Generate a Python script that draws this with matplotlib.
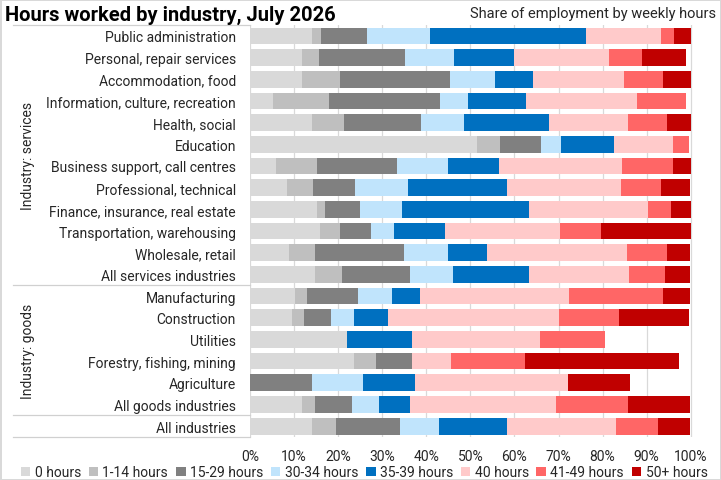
import numpy as np
import matplotlib
matplotlib.use('Agg')
import matplotlib.pyplot as plt
from matplotlib.patches import Patch

plt.rcParams['font.family'] = ['Roboto', 'DejaVu Sans']

industries = ['Public administration', 'Personal, repair services', 'Accommodation, food',
              'Information, culture, recreation', 'Health, social', 'Education',
              'Business support, call centres', 'Professional, technical',
              'Finance, insurance, real estate', 'Transportation, warehousing',
              'Wholesale, retail', 'All services industries',
              'Manufacturing', 'Construction', 'Utilities', 'Forestry, fishing, mining',
              'Agriculture', 'All goods industries', 'All industries']

hour_bands = ['0 hours', '1-14 hours', '15-29 hours', '30-34 hours',
              '35-39 hours', '40 hours', '41-49 hours', '50+ hours']

# share of employment (%) per band, one list per band, in industry order
h0     = [14.0, 11.7, 11.7,  5.2, 14.0, 51.4,  5.9,  8.3, 15.1, 15.8,  8.8, 14.7, 10.2,  9.5, 22.1, 23.5,  0.0, 11.7, 14.0]
h1_14  = [ 2.2,  3.9,  8.8, 12.8,  7.4,  5.4,  9.4,  6.1,  2.0,  4.7,  5.9,  6.1,  2.7,  2.7,  0.0,  5.1,  0.0,  3.0,  5.6]
h15_29 = [10.4, 19.6, 24.8, 25.1, 17.4,  9.3, 18.1,  9.5,  7.9,  7.0, 20.3, 15.5, 11.5,  6.1,  0.0,  8.2, 14.1,  8.5, 14.5]
h30_34 = [14.2, 11.0, 10.2,  6.3,  9.7,  4.5, 11.5, 12.0,  9.5,  5.2,  9.9,  9.7,  7.9,  5.4,  0.0,  0.0, 11.6,  6.1,  8.8]
h35_39 = [35.4, 13.6,  8.8, 13.3, 19.4, 12.0, 11.5, 22.3, 28.9, 11.5,  8.8, 17.2,  6.3,  7.7, 14.7,  0.0, 11.7,  7.0, 15.3]
h40    = [17.0, 21.6, 20.5, 25.0, 17.8, 13.3, 28.0, 25.9, 26.8, 26.2, 31.8, 22.7, 33.8, 38.8, 29.1,  8.8, 34.8, 33.2, 24.8]
h41_49 = [ 3.1,  7.5,  9.0, 11.3,  9.0,  3.6, 11.5,  9.1,  5.4,  9.2,  9.2,  8.2, 21.4, 13.5, 14.6, 16.9,  0.0, 16.2,  9.5]
h50    = [ 3.8, 10.1,  6.3,  0.0,  5.3,  0.0,  4.1,  6.7,  4.4, 20.4,  5.2,  5.8,  6.1, 16.0,  0.0, 34.9, 14.0, 14.2,  7.4]

colors = ['#d9d9d9', '#bfbfbf', '#808080', '#c0e4fc',
          '#0070c0', '#ffcaca', '#ff6666', '#c00000']

series = [h0, h1_14, h15_29, h30_34, h35_39, h40, h41_49, h50]

fig = plt.figure(figsize=(7.21, 4.81), dpi=100)
fig.patch.set_edgecolor('#d9d9d9')
fig.patch.set_linewidth(1)
ax = fig.add_axes([0.3467, 0.0894, 0.6144, 0.8565])

y = np.arange(len(industries))
left = np.zeros(len(industries))
for vals, col, name in zip(series, colors, hour_bands):
    vals = np.array(vals)
    ax.barh(y, vals, left=left, height=0.77, color=col, label=name, zorder=2)
    left += vals

ax.set_ylim(len(industries) - 0.5, -0.5)
ax.set_xlim(0, 100.5)
ax.set_xticks(np.arange(0, 101, 10))
ax.set_xticklabels(['%d%%' % v for v in range(0, 101, 10)], fontsize=10, color='#262626')
ax.set_yticks(y)
ax.set_yticklabels(industries, fontsize=10, color='#262626')
ax.tick_params(axis='both', length=0)
ax.tick_params(axis='y', pad=10)
ax.tick_params(axis='x', pad=9)
ax.grid(axis='x', color='#d9d9d9', linewidth=0.9, zorder=0)
ax.set_axisbelow(True)
for s in ax.spines.values():
    s.set_visible(False)

# group separators in the label area
trans = ax.get_yaxis_transform()
for yy in [-0.5, 11.5, 17.5, 18.5]:
    ax.plot([-0.535, 0], [yy, yy], transform=trans, color='#d0d0d0',
            linewidth=0.9, clip_on=False)
ax.text(-0.5, 5.5, 'Industry: services', transform=trans, rotation=90,
        ha='center', va='center', fontsize=10, color='#262626')
ax.text(-0.5, 14.5, 'Industry: goods', transform=trans, rotation=90,
        ha='center', va='center', fontsize=10, color='#262626')

fig.text(0.007, 0.968, 'Hours worked by industry, July 2026', fontsize=14.5,
         fontweight='bold', ha='left', va='center', color='black')
fig.text(0.993, 0.97, 'Share of employment by weekly hours', fontsize=10.5,
         ha='right', va='center', color='#262626')

handles = [Patch(facecolor=c, edgecolor='none') for c in colors]
fig.legend(handles, hour_bands, loc='center', bbox_to_anchor=(0.505, 0.016), ncol=8,
           frameon=False, fontsize=10, handlelength=0.7, handleheight=0.7,
           handletextpad=0.3, columnspacing=0.55, borderpad=0, labelcolor='#262626')

fig.savefig('out.png', dpi=100)
